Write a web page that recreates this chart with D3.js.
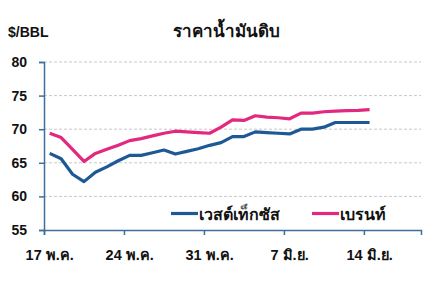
<!DOCTYPE html>
<html>
<head>
<meta charset="utf-8">
<script src="https://cdn.jsdelivr.net/npm/d3@7"></script>
<style>
  html, body { margin: 0; padding: 0; background: #fff; }
  svg text { font-family: "Liberation Sans", Arial, sans-serif; font-weight: bold; fill: #111; }
</style>
</head>
<body>
<div id="chart"></div>
<script>
// Data: one value per day, starting 17 May
const dayIndex = d3.range(29);
const wti = [66.4, 65.6, 63.3, 62.2, 63.6, 64.4, 65.3, 66.1, 66.1, 66.5, 66.9, 66.3, 66.7, 67.1, 67.6,
  68.0, 68.9, 68.9, 69.6, 69.5, 69.4, 69.3, 70.0, 70.0, 70.3, 71.0, 71.0, 71.0, 71.0];
const brent = [69.4, 68.75, 67.0, 65.2, 66.4, 67.0, 67.6, 68.3, 68.6, 69.0, 69.4, 69.7, 69.6, 69.5, 69.4,
  70.3, 71.4, 71.3, 72.0, 71.8, 71.7, 71.55, 72.4, 72.4, 72.6, 72.7, 72.75, 72.8, 72.9];
const xTickDays = [0, 7, 14, 21, 28];
const xTickLabels = ["17 พ.ค.", "24 พ.ค.", "31 พ.ค.", "7 มิ.ย.", "14 มิ.ย."];
const yTicks = [55, 60, 65, 70, 75, 80];
const seriesNames = ["เวสต์เท็กซัส", "เบรนท์"];
const seriesColors = ["#1d5a95", "#e2297e"];

const W = 436, H = 291;
const margin = { top: 62, right: 15, bottom: 61, left: 44 };

const svg = d3.select("#chart").append("svg")
  .attr("width", W).attr("height", H);

const x = d3.scaleLinear().domain([0, 33]).range([margin.left, W - margin.right]);
const y = d3.scaleLinear().domain([55, 80]).range([H - margin.bottom, margin.top]);

// grid lines
svg.append("g")
  .selectAll("line")
  .data(yTicks.filter(d => d > 55))
  .enter().append("line")
  .attr("x1", margin.left).attr("x2", W - margin.right)
  .attr("y1", d => y(d)).attr("y2", d => y(d))
  .attr("stroke", "#c8c8c8").attr("stroke-width", 1)
  .attr("stroke-dasharray", "3,2");

// y axis
const yAxis = svg.append("g")
  .attr("transform", `translate(${margin.left},0)`)
  .call(d3.axisLeft(y).tickValues(yTicks).tickSize(5).tickPadding(12));
yAxis.select(".domain").attr("stroke", "#3d6f9a").attr("stroke-width", 1.5);
yAxis.selectAll(".tick line").attr("stroke", "#3d6f9a").attr("stroke-width", 1.5);
yAxis.selectAll(".tick text").style("font-size", "14px").attr("fill", "#111");

// x axis (labels sit at the middle of the day)
const xAxis = svg.append("g")
  .attr("transform", `translate(0,${y(55)})`)
  .call(d3.axisBottom(x).tickValues(xTickDays).tickSize(5).tickFormat(""));
xAxis.select(".domain").attr("stroke", "#3d6f9a").attr("stroke-width", 1.5);
xAxis.selectAll(".tick line").attr("stroke", "#3d6f9a").attr("stroke-width", 1.5);

svg.append("g")
  .selectAll("text")
  .data(xTickDays)
  .enter().append("text")
  .attr("x", d => x(d + 0.5))
  .attr("y", y(55) + 30)
  .attr("text-anchor", "middle")
  .style("font-size", "14.5px")
  .text((d, i) => xTickLabels[i]);

// lines
const line = d3.line()
  .x((d, i) => x(dayIndex[i] + 0.5))
  .y(d => y(d));

[wti, brent].forEach((values, k) => {
  svg.append("path")
    .datum(values)
    .attr("fill", "none")
    .attr("stroke", seriesColors[k])
    .attr("stroke-width", 3.2)
    .attr("stroke-linejoin", "round")
    .attr("d", line);
});

// titles
svg.append("text")
  .attr("x", 8).attr("y", 37)
  .style("font-size", "14px")
  .text("$/BBL");

svg.append("text")
  .attr("x", 226).attr("y", 37)
  .attr("text-anchor", "middle")
  .style("font-size", "17px")
  .text("ราคาน้ำมันดิบ");

// legend
const legendX = [171, 312];
seriesNames.forEach((name, k) => {
  const g = svg.append("g").attr("transform", `translate(${legendX[k]},213.5)`);
  g.append("line")
    .attr("x1", 0).attr("x2", 27)
    .attr("stroke", seriesColors[k]).attr("stroke-width", 3.2);
  g.append("text")
    .attr("x", 28).attr("y", 6)
    .style("font-size", "16px")
    .text(name);
});
</script>
</body>
</html>
